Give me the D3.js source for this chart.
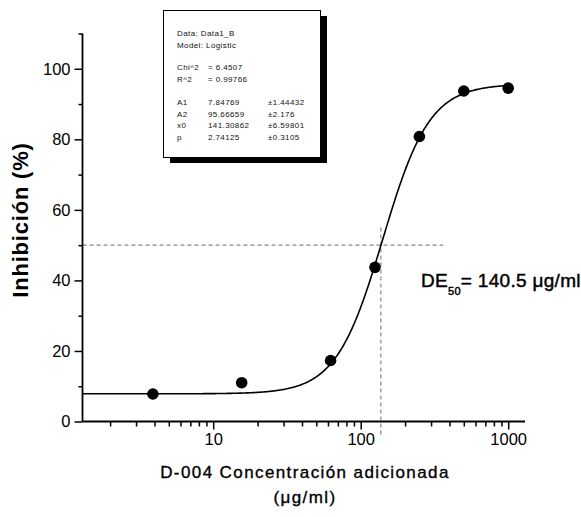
<!DOCTYPE html>
<html>
<head>
<meta charset="utf-8">
<script src="https://cdn.jsdelivr.net/npm/d3@7"></script>
<style>
  body { margin: 0; background: #fff; }
  svg { display: block; font-family: "Liberation Sans", Arial, sans-serif; }
</style>
</head>
<body>
<svg id="chart" width="581" height="517"></svg>
<script>
// measured points
var conc = [3.9, 15.6, 62.5, 125, 250, 500, 1000];
var inhib = [7.8, 11.0, 17.3, 43.7, 80.8, 93.7, 94.5];

// logistic fit shown in the box: A1, A2, x0, p
var fitNames = ["A1", "A2", "x0", "p"];
var fitValues = [7.84769, 95.66659, 141.30862, 2.74125];
var fitErrors = ["\u00b11.44432", "\u00b12.176", "\u00b16.59801", "\u00b10.3105"];
var fitStats = [["Chi^2", "= 6.4507"], ["R^2", "= 0.99766"]];

var xTickLabels = [10, 100, 1000];
var yTickLabels = [0, 20, 40, 60, 80, 100];
var de50 = 137;   // where the dashed guide is drawn
var halfLevel = 50;

var svg = d3.select("#chart");

var x = d3.scaleLog().domain([1.3, 1300]).range([82.5, 525]);
var y = d3.scaleLinear().domain([0, 110]).range([421.5, 33.5]);

function logistic(v) {
    var A1 = fitValues[0], A2 = fitValues[1], x0 = fitValues[2], p = fitValues[3];
    return A2 + (A1 - A2) / (1 + Math.pow(v / x0, p));
}

// dashed guides
svg.append("line")
    .attr("x1", x(1.3)).attr("x2", 443)
    .attr("y1", y(halfLevel)).attr("y2", y(halfLevel))
    .attr("stroke", "#888").attr("stroke-width", 1.2).attr("stroke-dasharray", "4,3");
svg.append("line")
    .attr("x1", x(de50)).attr("x2", x(de50))
    .attr("y1", y(55)).attr("y2", y(-4))
    .attr("stroke", "#888").attr("stroke-width", 1.2).attr("stroke-dasharray", "4,3");

// fitted curve
var xs = d3.range(0, 401).map(function (i) {
    return Math.pow(10, Math.log10(1.3) + i / 400 * (3 - Math.log10(1.3)));
});
svg.append("path")
    .datum(xs)
    .attr("fill", "none")
    .attr("stroke", "#000")
    .attr("stroke-width", 1.6)
    .attr("d", d3.line().x(function (d) { return x(d); }).y(function (d) { return y(logistic(d)); }));

// points
svg.selectAll(".pt")
    .data(conc)
    .enter().append("circle")
    .attr("class", "pt")
    .attr("cx", function (d) { return x(d); })
    .attr("cy", function (d, i) { return y(inhib[i]); })
    .attr("r", 5.8)
    .attr("fill", "#000");

// x axis
var minorX = [];
[1, 10, 100].forEach(function (dec) {
    for (var k = 2; k <= 9; k++) minorX.push(dec * k);
});
var gx = svg.append("g").attr("transform", "translate(0," + y(0) + ")");
gx.call(d3.axisBottom(x).tickValues(minorX).tickSize(5).tickFormat(""));
gx.append("g").call(d3.axisBottom(x).tickValues(xTickLabels).tickSize(8).tickPadding(4)
    .tickFormat(d3.format("d")));
gx.selectAll(".domain").remove();
gx.selectAll("line").attr("stroke-width", 1.5);
gx.selectAll("text").attr("font-size", 16.5).attr("fill", "#000")
    .attr("font-family", "'Liberation Sans', Arial, sans-serif");
svg.append("line").attr("x1", 82.5).attr("x2", 525).attr("y1", y(0)).attr("y2", y(0))
    .attr("stroke", "#000").attr("stroke-width", 1.8);

// y axis
var gy = svg.append("g").attr("transform", "translate(" + x(1.3) + ",0)");
gy.call(d3.axisLeft(y).tickValues([10, 30, 50, 70, 90, 110]).tickSize(4).tickFormat(""));
gy.append("g").call(d3.axisLeft(y).tickValues(yTickLabels).tickSize(8).tickPadding(4));
gy.selectAll(".domain").remove();
gy.selectAll("line").attr("stroke-width", 1.5);
gy.selectAll("text").attr("font-size", 16.5).attr("fill", "#000")
    .attr("font-family", "'Liberation Sans', Arial, sans-serif");
svg.append("line").attr("x1", x(1.3)).attr("x2", x(1.3)).attr("y1", y(0)).attr("y2", y(110))
    .attr("stroke", "#000").attr("stroke-width", 1.8);

// axis titles
svg.append("text")
    .attr("transform", "translate(28,220)rotate(-90)")
    .attr("text-anchor", "middle")
    .attr("font-size", 22).attr("font-weight", "bold").attr("letter-spacing", 0.8)
    .text("Inhibición (%)");
svg.selectAll(".xt")
    .data(["D-004 Concentración adicionada", "(μg/ml)"])
    .enter().append("text")
    .attr("x", 305).attr("y", function (d, i) { return 478 + i * 25; })
    .attr("text-anchor", "middle")
    .attr("font-size", 17).attr("letter-spacing", 1.4)
    .attr("stroke", "#000").attr("stroke-width", 0.35)
    .text(function (d) { return d; });

// DE50 annotation
var de = svg.append("text").attr("x", 421).attr("y", 287)
    .attr("font-size", 19).attr("letter-spacing", 0.3)
    .attr("stroke", "#000").attr("stroke-width", 0.45);
de.append("tspan").text("DE");
de.append("tspan").attr("font-size", 11).attr("dy", 8).text("50");
de.append("tspan").attr("dy", -8).text("= 140.5 μg/ml");

// fit results box
var box = svg.append("g");
box.append("rect").attr("x", 170).attr("y", 16).attr("width", 157).attr("height", 147).attr("fill", "#000");
box.append("rect").attr("x", 163.5).attr("y", 10.5).attr("width", 157).attr("height", 147)
    .attr("fill", "#fff").attr("stroke", "#000").attr("stroke-width", 1);
var bt = box.append("g").attr("font-size", 8).attr("letter-spacing", 0.4).attr("fill", "#111");
bt.append("text").attr("x", 177).attr("y", 36).text("Data: Data1_B");
bt.append("text").attr("x", 177).attr("y", 48).text("Model: Logistic");
fitStats.forEach(function (s, i) {
    bt.append("text").attr("x", 177).attr("y", 70 + i * 11.5).text(s[0]);
    bt.append("text").attr("x", 208).attr("y", 70 + i * 11.5).text(s[1]);
});
fitNames.forEach(function (n, i) {
    var yy = 105 + i * 11.7;
    bt.append("text").attr("x", 177).attr("y", yy).text(n);
    bt.append("text").attr("x", 208).attr("y", yy).text(fitValues[i]);
    bt.append("text").attr("x", 268).attr("y", yy).text(fitErrors[i]);
});
</script>
</body>
</html>
